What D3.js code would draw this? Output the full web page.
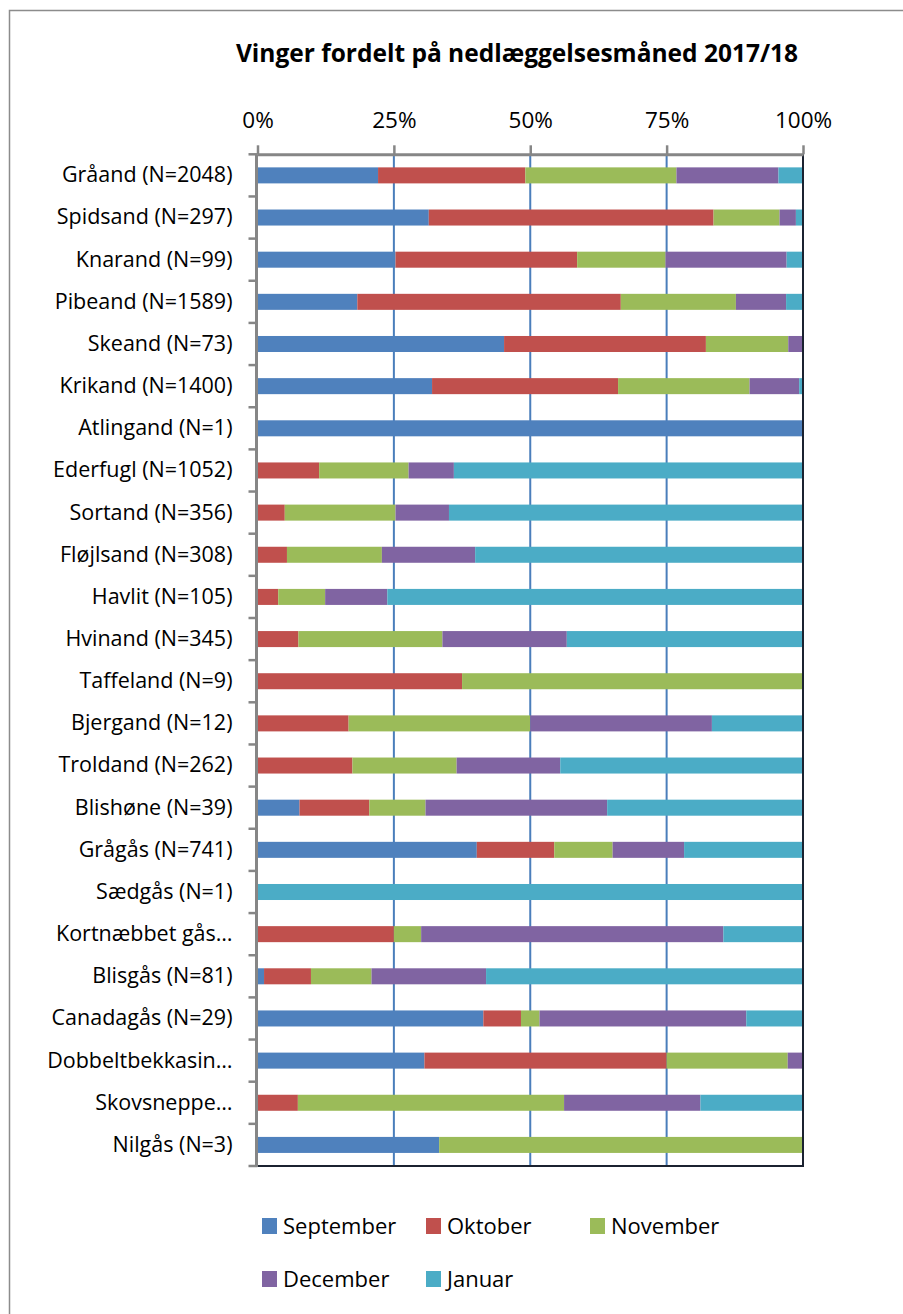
<!DOCTYPE html>
<html>
<head>
<meta charset="utf-8">
<script src="https://cdn.jsdelivr.net/npm/d3@7"></script>
<style>
  body { margin: 0; background: #fff; }
  svg { display: block; font-family: "Open Sans", "Noto Sans", sans-serif; }
</style>
</head>
<body>
<div id="chart"></div>
<script>
// species (rows, top to bottom)
var species = [
    "Gråand (N=2048)", "Spidsand (N=297)", "Knarand (N=99)", "Pibeand (N=1589)",
    "Skeand (N=73)", "Krikand (N=1400)", "Atlingand (N=1)", "Ederfugl (N=1052)",
    "Sortand (N=356)", "Fløjlsand (N=308)", "Havlit (N=105)", "Hvinand (N=345)",
    "Taffeland (N=9)", "Bjergand (N=12)", "Troldand (N=262)", "Blishøne (N=39)",
    "Grågås (N=741)", "Sædgås (N=1)", "Kortnæbbet gås…", "Blisgås (N=81)",
    "Canadagås (N=29)", "Dobbeltbekkasin…", "Skovsneppe…", "Nilgås (N=3)"
];

// share of wings per month (%)
var september = [22.1, 31.4, 25.3, 18.3, 45.2, 32.0, 100, 0, 0, 0, 0, 0, 0, 0, 0, 7.7, 40.2, 0, 0, 1.2, 41.4, 30.6, 0, 33.3];
var oktober   = [27.0, 52.2, 33.3, 48.3, 37.0, 34.1, 0, 11.3, 5.0, 5.4, 3.8, 7.5, 37.5, 16.7, 17.4, 12.8, 14.2, 0, 25.0, 8.6, 6.9, 44.4, 7.4, 0];
var november  = [27.7, 12.1, 16.2, 21.1, 15.1, 24.1, 0, 16.4, 20.3, 17.4, 8.6, 26.4, 62.5, 33.3, 19.1, 10.3, 10.7, 0, 5.0, 11.1, 3.4, 22.2, 48.8, 66.7];
var december  = [18.7, 3.0, 22.2, 9.2, 2.7, 9.1, 0, 8.3, 9.8, 17.1, 11.4, 22.8, 0, 33.3, 19.0, 33.3, 13.1, 0, 55.4, 21.0, 37.9, 2.8, 25.0, 0];
var januar    = [4.5, 1.3, 3.0, 3.1, 0, 0.7, 0, 64.0, 64.9, 60.1, 76.2, 43.3, 0, 16.7, 44.5, 35.9, 21.8, 100, 14.6, 58.0, 10.3, 0, 18.8, 0];

var months = ["September", "Oktober", "November", "December", "Januar"];
var monthColors = ["#4F81BD", "#C0504D", "#9BBB59", "#8064A2", "#4BACC6"];
var tickValues = [0, 25, 50, 75, 100];

// build rows for d3.stack
var series = [september, oktober, november, december, januar];
var rows = species.map(function(s, i) {
    var r = { name: s };
    months.forEach(function(m, j) { r[m] = series[j][i]; });
    return r;
});

var svgWidth = 903, svgHeight = 1314;
var plot = { left: 257.5, right: 803, top: 154.3, bottom: 1166 };

var svg = d3.select("#chart").append("svg")
    .attr("width", svgWidth).attr("height", svgHeight);

// outer chart border (runs off the right/bottom of the picture)
svg.append("rect")
    .attr("x", 9.5).attr("y", 10.5)
    .attr("width", 1000).attr("height", 1400)
    .attr("fill", "none").attr("stroke", "#8c8c8c").attr("stroke-width", 1.5);

// title
svg.append("text")
    .attr("x", 517).attr("y", 62)
    .attr("text-anchor", "middle")
    .attr("font-size", 24.5).attr("font-weight", "bold")
    .attr("fill", "#000")
    .text("Vinger fordelt på nedlæggelsesmåned 2017/18");

var x = d3.scaleLinear().domain([0, 100]).range([plot.left, plot.right]);
var y = d3.scaleBand().domain(species).range([plot.top, plot.bottom])
    .paddingInner(0.62).paddingOuter(0.31);

// vertical gridlines
svg.append("g").selectAll("line")
    .data(tickValues.filter(function(t) { return t > 0 && t < 100; }))
    .enter().append("line")
    .attr("x1", d => x(d)).attr("x2", d => x(d))
    .attr("y1", plot.top).attr("y2", plot.bottom)
    .attr("stroke", "#4A7EBB").attr("stroke-width", 2);

// stacked bars
var stack = d3.stack().keys(months);
var layers = stack(rows);

svg.append("g").selectAll("g")
    .data(layers).enter().append("g")
    .attr("fill", (d, i) => monthColors[i])
    .selectAll("rect")
    .data(d => d).enter().append("rect")
    .attr("x", d => x(d[0]))
    .attr("y", d => y(d.data.name))
    .attr("width", d => x(d[1]) - x(d[0]))
    .attr("height", y.bandwidth());

// right + bottom plot border (dark)
svg.append("path")
    .attr("d", "M" + plot.right + "," + plot.top + "V" + plot.bottom + "H" + plot.left)
    .attr("fill", "none").attr("stroke", "#1b2230").attr("stroke-width", 2);

// top axis
var xAxis = d3.axisTop(x).tickValues(tickValues).tickFormat(d => d + "%")
    .tickSizeInner(9).tickSizeOuter(0).tickPadding(17);
var gx = svg.append("g").attr("transform", "translate(0," + plot.top + ")").call(xAxis);
gx.select(".domain").attr("stroke", "#868686").attr("stroke-width", 3);
gx.selectAll(".tick line").attr("stroke", "#868686").attr("stroke-width", 2.5);
gx.selectAll(".tick text").attr("font-size", 22.5).attr("fill", "#000")
    .attr("font-family", "'Open Sans', sans-serif");

// left axis: labels at band centres, ticks at band boundaries
var yAxis = d3.axisLeft(y).tickSize(0).tickPadding(25);
var gy = svg.append("g").attr("transform", "translate(" + plot.left + ",0)").call(yAxis);
gy.select(".domain").remove();
gy.selectAll(".tick text").attr("font-size", 21.5).attr("fill", "#000")
    .attr("font-family", "'Open Sans', sans-serif");

var step = (plot.bottom - plot.top) / species.length;
svg.append("g").selectAll("line")
    .data(d3.range(species.length + 1))
    .enter().append("line")
    .attr("x1", plot.left - 9).attr("x2", plot.left)
    .attr("y1", d => plot.top + d * step).attr("y2", d => plot.top + d * step)
    .attr("stroke", "#868686").attr("stroke-width", 2.5);
svg.append("line")
    .attr("x1", plot.left - 1).attr("x2", plot.left - 1)
    .attr("y1", plot.top).attr("y2", plot.bottom)
    .attr("stroke", "#868686").attr("stroke-width", 3);

// legend
var legendPos = [[262, 1226], [426, 1226], [590, 1226], [262, 1279], [426, 1279]];
var legend = svg.append("g").selectAll("g")
    .data(months).enter().append("g")
    .attr("transform", (d, i) => "translate(" + legendPos[i][0] + "," + legendPos[i][1] + ")");
legend.append("rect")
    .attr("x", 0).attr("y", -8).attr("width", 15).attr("height", 16)
    .attr("fill", (d, i) => monthColors[i]);
legend.append("text")
    .attr("x", 21).attr("y", 0).attr("dy", "0.35em")
    .attr("font-size", 22).attr("fill", "#000")
    .text(d => d);
</script>
</body>
</html>
